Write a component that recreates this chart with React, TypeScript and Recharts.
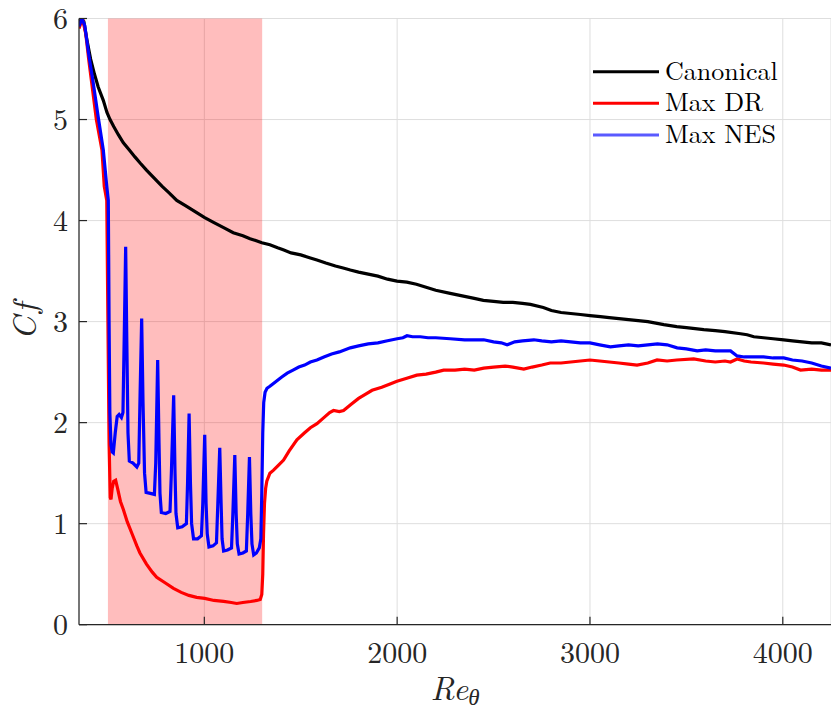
import React from 'react';
import { LineChart, Line, XAxis, YAxis, CartesianGrid, ReferenceArea, Label, Legend } from 'recharts';

// ---------- data ----------
const xTicks = [1000, 2000, 3000, 4000];
const yTicks = [0, 1, 2, 3, 4, 5, 6];
const xDomain: [number, number] = [350, 4250];
const yDomain: [number, number] = [0, 6];
const shadedRange: [number, number] = [500, 1300];
const seriesNames = ['Canonical', 'Max DR', 'Max NES'];
const seriesColors = ['#000000', '#ff0000', '#0000ff'];
const legendColors = ['#000000', '#ff0000', '#5a5aff'];

const canonicalPoints: [number, number][] = [
  [350, 5.93], [362, 6.0], [375, 5.97], [390, 5.8], [410, 5.6], [430, 5.45], [450, 5.32], [476, 5.19],
  [495, 5.07], [511, 5.0], [530, 4.93], [554, 4.85], [580, 4.77], [610, 4.7], [640, 4.63], [667, 4.57],
  [700, 4.5], [740, 4.42], [780, 4.34], [820, 4.27], [857, 4.2], [900, 4.15], [950, 4.09], [1002, 4.03],
  [1050, 3.98], [1100, 3.93], [1150, 3.88], [1200, 3.85], [1237, 3.82], [1270, 3.8], [1298, 3.78],
  [1340, 3.76], [1380, 3.73], [1409, 3.71], [1450, 3.68], [1500, 3.66], [1550, 3.63], [1584, 3.61],
  [1630, 3.58], [1680, 3.55], [1720, 3.53], [1757, 3.51], [1800, 3.49], [1850, 3.47], [1900, 3.45],
  [1950, 3.42], [1999, 3.4], [2050, 3.39], [2100, 3.37], [2150, 3.34], [2200, 3.31], [2275, 3.28],
  [2350, 3.25], [2400, 3.23], [2447, 3.21], [2500, 3.2], [2550, 3.19], [2600, 3.19], [2650, 3.18],
  [2691, 3.17], [2758, 3.14], [2800, 3.11], [2850, 3.09], [2900, 3.08], [2950, 3.07], [3000, 3.06],
  [3054, 3.05], [3100, 3.04], [3150, 3.03], [3200, 3.02], [3250, 3.01], [3300, 3.0], [3383, 2.97],
  [3450, 2.95], [3500, 2.94], [3590, 2.92], [3650, 2.91], [3700, 2.9], [3781, 2.88], [3815, 2.87],
  [3850, 2.85], [3900, 2.84], [3950, 2.83], [4005, 2.82], [4050, 2.81], [4100, 2.8], [4150, 2.79],
  [4200, 2.79], [4250, 2.77],
];

const maxDrPoints: [number, number][] = [
  [350, 5.9], [368, 6.0], [385, 5.85], [400, 5.6], [416, 5.36], [440, 5.0], [469, 4.7], [481, 4.34],
  [494, 4.2], [500, 3.0], [506, 1.8], [512, 1.26], [516, 1.24], [522, 1.35], [530, 1.42], [540, 1.43],
  [550, 1.35], [565, 1.22], [580, 1.14], [600, 1.02], [625, 0.9], [650, 0.78], [666, 0.71], [700, 0.6],
  [730, 0.52], [753, 0.47], [800, 0.41], [840, 0.36], [880, 0.32], [920, 0.29], [960, 0.27], [1002, 0.26],
  [1050, 0.24], [1100, 0.23], [1140, 0.22], [1168, 0.21], [1200, 0.22], [1240, 0.23], [1272, 0.24],
  [1290, 0.25], [1298, 0.3], [1303, 0.5], [1307, 0.9], [1312, 1.2], [1318, 1.35], [1324, 1.42],
  [1340, 1.5], [1359, 1.53], [1385, 1.58], [1411, 1.63], [1440, 1.72], [1480, 1.83], [1520, 1.9],
  [1550, 1.95], [1584, 1.99], [1620, 2.05], [1650, 2.1], [1670, 2.12], [1700, 2.11], [1722, 2.12],
  [1760, 2.18], [1800, 2.24], [1826, 2.27], [1870, 2.32], [1920, 2.35], [1960, 2.38], [1999, 2.41],
  [2050, 2.44], [2102, 2.47], [2150, 2.48], [2200, 2.5], [2241, 2.52], [2300, 2.52], [2350, 2.53],
  [2400, 2.52], [2449, 2.54], [2500, 2.55], [2560, 2.56], [2600, 2.55], [2657, 2.53], [2700, 2.55],
  [2750, 2.57], [2794, 2.59], [2850, 2.59], [2900, 2.6], [2950, 2.61], [3000, 2.62], [3050, 2.61],
  [3100, 2.6], [3150, 2.59], [3200, 2.58], [3244, 2.57], [3300, 2.59], [3348, 2.62], [3400, 2.61],
  [3450, 2.62], [3538, 2.63], [3600, 2.61], [3650, 2.6], [3700, 2.61], [3729, 2.6], [3763, 2.63],
  [3800, 2.61], [3835, 2.6], [3900, 2.59], [3950, 2.58], [4005, 2.57], [4050, 2.55], [4092, 2.52],
  [4150, 2.53], [4200, 2.52], [4250, 2.52],
];

const maxNesPoints: [number, number][] = [
  [350, 5.92], [365, 6.0], [380, 5.93], [400, 5.65], [424, 5.36], [450, 5.02], [476, 4.7], [494, 4.34],
  [502, 4.2], [506, 3.0], [510, 2.1], [516, 1.78], [522, 1.71], [528, 1.7], [538, 1.9], [548, 2.06],
  [558, 2.08], [570, 2.05], [578, 2.1], [585, 2.9], [592, 3.74], [598, 2.8], [604, 1.9], [611, 1.62],
  [630, 1.6], [650, 1.56], [660, 1.6], [667, 2.3], [675, 3.03], [682, 2.2], [690, 1.5], [698, 1.31],
  [720, 1.3], [741, 1.29], [748, 1.6], [758, 2.62], [765, 1.8], [770, 1.3], [777, 1.11], [800, 1.1],
  [822, 1.12], [829, 1.5], [841, 2.27], [848, 1.5], [853, 1.1], [862, 0.96], [885, 0.97], [907, 1.0],
  [913, 1.4], [921, 2.09], [928, 1.4], [934, 1.0], [944, 0.85], [965, 0.85], [985, 0.88], [992, 1.2],
  [1002, 1.88], [1009, 1.2], [1015, 0.9], [1024, 0.77], [1045, 0.78], [1063, 0.81], [1070, 1.2],
  [1080, 1.75], [1087, 1.2], [1092, 0.85], [1100, 0.73], [1120, 0.74], [1141, 0.76], [1148, 1.1],
  [1158, 1.68], [1165, 1.1], [1171, 0.8], [1180, 0.7], [1200, 0.71], [1218, 0.73], [1225, 1.1],
  [1234, 1.66], [1241, 1.1], [1247, 0.8], [1256, 0.69], [1270, 0.71], [1285, 0.76], [1293, 0.85],
  [1298, 1.3], [1303, 1.9], [1308, 2.2], [1315, 2.3], [1325, 2.34], [1340, 2.36], [1360, 2.39],
  [1380, 2.42], [1400, 2.45], [1430, 2.49], [1460, 2.52], [1490, 2.55], [1520, 2.57], [1550, 2.6],
  [1584, 2.62], [1620, 2.65], [1660, 2.68], [1700, 2.7], [1757, 2.74], [1800, 2.76], [1850, 2.78],
  [1900, 2.79], [1950, 2.81], [2000, 2.83], [2030, 2.84], [2051, 2.86], [2080, 2.85], [2120, 2.85],
  [2160, 2.84], [2200, 2.84], [2275, 2.83], [2350, 2.82], [2400, 2.82], [2449, 2.82], [2500, 2.8],
  [2540, 2.79], [2570, 2.77], [2610, 2.8], [2650, 2.81], [2709, 2.82], [2750, 2.81], [2800, 2.8],
  [2850, 2.81], [2900, 2.8], [2950, 2.79], [3000, 2.79], [3050, 2.77], [3106, 2.75], [3150, 2.76],
  [3200, 2.77], [3250, 2.76], [3300, 2.77], [3350, 2.78], [3400, 2.77], [3452, 2.74], [3500, 2.73],
  [3556, 2.71], [3600, 2.72], [3650, 2.71], [3700, 2.71], [3729, 2.71], [3763, 2.66], [3800, 2.65],
  [3850, 2.65], [3900, 2.65], [3950, 2.64], [4005, 2.64], [4050, 2.62], [4100, 2.61], [4150, 2.59],
  [4200, 2.56], [4250, 2.54],
];

const seriesPoints = [canonicalPoints, maxDrPoints, maxNesPoints];

// ---------- styling ----------
const FONT = 'Latin Modern Roman';
const AXIS_COLOR = '#262626';
const GRID_COLOR = '#dedede';

const toRows = (pts: [number, number][]) => pts.map(([x, y]) => ({ x, y }));

const XAxisLabel = (props: any) => {
  const vb = props.viewBox || {};
  const cx = vb.x + vb.width / 2;
  const by = vb.y + 75;
  return (
    <text x={cx} y={by} textAnchor="middle" style={{ fontFamily: FONT }} fontStyle="italic" fill={AXIS_COLOR}>
      <tspan fontSize={33}>Re</tspan>
      <tspan fontSize={23} dy={5}>θ</tspan>
    </text>
  );
};

const YAxisLabel = (props: any) => {
  const vb = props.viewBox || {};
  const cx = vb.x + 36;
  const cy = vb.y + vb.height / 2;
  return (
    <text
      x={cx}
      y={cy}
      textAnchor="middle"
      transform={`rotate(-90, ${cx}, ${cy})`}
      style={{ fontFamily: FONT }}
      fontStyle="italic"
      fontSize={33}
      fill={AXIS_COLOR}
    >
      <tspan>C</tspan>
      <tspan dx={3}>f</tspan>
    </text>
  );
};

const LegendContent = () => (
  <svg width={230} height={100} style={{ display: 'block' }}>
    {seriesNames.map((name, i) => {
      const cy = 16.7 + i * 31.6;
      return (
        <g key={name}>
          <line x1={3} x2={69} y1={cy} y2={cy} stroke={legendColors[i]} strokeWidth={3} />
          <text x={75} y={cy + 8} style={{ fontFamily: FONT }} fontSize={26} fill="#000">
            {name}
          </text>
        </g>
      );
    })}
  </svg>
);

const tickStyle = { fontFamily: FONT, fontSize: 30, fill: AXIS_COLOR };

export default function App() {
  return (
    <div style={{ position: 'absolute', left: 0, top: 0, width: 831, height: 713, background: '#fff' }}>
      <LineChart width={831} height={713} margin={{ top: 18.5, right: 0, left: 0, bottom: 0 }}>
        <CartesianGrid stroke={GRID_COLOR} strokeWidth={1} />
        <ReferenceArea x1={shadedRange[0]} x2={shadedRange[1]} fill="#ff0000" fillOpacity={0.26} stroke="none" />
        <XAxis
          dataKey="x"
          type="number"
          domain={xDomain}
          ticks={xTicks}
          allowDataOverflow
          height={88.3}
          tickSize={-8}
          tickMargin={25}
          tick={tickStyle}
          axisLine={{ stroke: AXIS_COLOR, strokeWidth: 1.2 }}
          tickLine={{ stroke: AXIS_COLOR, strokeWidth: 1.2 }}
        >
          <Label content={<XAxisLabel />} />
        </XAxis>
        <XAxis
          xAxisId="top"
          orientation="top"
          dataKey="x"
          type="number"
          domain={xDomain}
          ticks={xTicks}
          allowDataOverflow
          height={0}
          tickSize={-8}
          tick={false}
          axisLine={{ stroke: AXIS_COLOR, strokeWidth: 1.2 }}
          tickLine={{ stroke: AXIS_COLOR, strokeWidth: 1.2 }}
        />
        <YAxis
          type="number"
          domain={yDomain}
          ticks={yTicks}
          allowDataOverflow
          width={79}
          tickSize={-8}
          tickMargin={19}
          tick={tickStyle}
          axisLine={{ stroke: AXIS_COLOR, strokeWidth: 1.2 }}
          tickLine={{ stroke: AXIS_COLOR, strokeWidth: 1.2 }}
        >
          <Label content={<YAxisLabel />} />
        </YAxis>
        {seriesNames.map((name, i) => (
          <Line
            key={name}
            name={name}
            data={toRows(seriesPoints[i])}
            dataKey="y"
            type="linear"
            stroke={seriesColors[i]}
            strokeWidth={3.2}
            dot={false}
            activeDot={false}
            isAnimationActive={false}
          />
        ))}
        <Legend
          layout="vertical"
          align="center"
          verticalAlign="middle"
          content={<LegendContent />}
          wrapperStyle={{ left: 590, top: 55, width: 230, height: 100 }}
        />
      </LineChart>
    </div>
  );
}
